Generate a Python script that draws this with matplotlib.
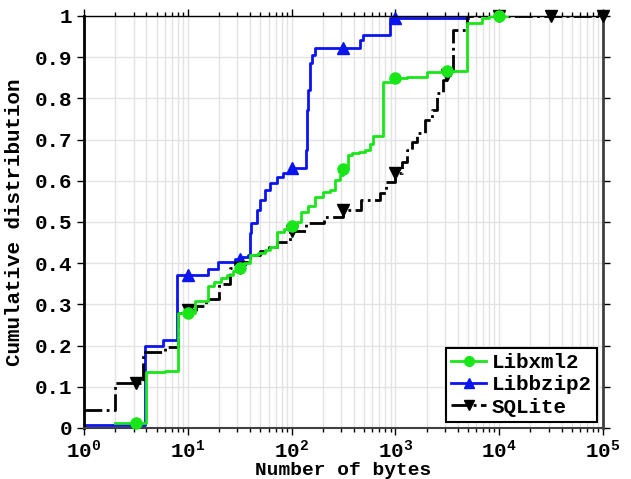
import numpy as np
import matplotlib
matplotlib.use("Agg")
import matplotlib.pyplot as plt

plt.rcParams['font.family'] = ['Liberation Mono', 'DejaVu Sans']
plt.rcParams['font.weight'] = 'bold'
plt.rcParams['mathtext.default'] = 'regular'
plt.rcParams['mathtext.fontset'] = 'custom'
plt.rcParams['mathtext.rm'] = 'Liberation Mono:bold'

# step curves (steps-post): cumulative fraction from each x until the next
xml_x = [2, 4, 6, 8, 11.8, 15.5, 18, 21, 24, 27, 31, 35, 40, 48, 55, 62, 72, 85, 100,
         112, 124, 145, 168, 200, 234, 260, 290, 316, 350, 380, 450, 510, 570, 610,
         760, 1000, 1300, 1600, 2000, 3100, 4900, 6800, 8000, 12000]
xml_y = [0.013, 0.136, 0.138, 0.279, 0.308, 0.345, 0.355, 0.365, 0.372, 0.380, 0.388,
         0.40, 0.42, 0.425, 0.432, 0.44, 0.475, 0.482, 0.49, 0.50, 0.525, 0.54, 0.561,
         0.572, 0.578, 0.602, 0.615, 0.628, 0.663, 0.667, 0.67, 0.675, 0.69, 0.708,
         0.84, 0.849, 0.851, 0.853, 0.865, 0.866, 0.982, 0.994, 1.0, 1.0]

bz_x = [1, 3.9, 5.8, 7.8, 15.8, 19.6, 28.5, 33, 38, 40, 41, 46, 49.6, 55, 61.7, 71.8,
        83, 100, 137, 140, 144, 150, 156, 168, 455, 490, 890, 5000]
bz_y = [0.008, 0.199, 0.213, 0.371, 0.385, 0.404, 0.41, 0.415, 0.42, 0.473, 0.497,
        0.529, 0.553, 0.578, 0.594, 0.61, 0.618, 0.63, 0.675, 0.772, 0.82, 0.885,
        0.905, 0.922, 0.942, 0.954, 0.995, 0.995]

sql_x = [1, 2, 3.7, 6, 8, 10, 12, 15, 20, 25.5, 31.8, 40, 50, 60, 72, 96, 139, 203,
         316, 470, 708, 820, 1000, 1150, 1290, 1450, 1600, 1930, 2240, 2500, 2900,
         3100, 3600, 4900, 100000]
sql_y = [0.044, 0.11, 0.185, 0.197, 0.28, 0.287, 0.295, 0.312, 0.35, 0.388, 0.404,
         0.42, 0.43, 0.44, 0.452, 0.477, 0.497, 0.513, 0.529, 0.553, 0.57, 0.598,
         0.62, 0.645, 0.675, 0.695, 0.715, 0.748, 0.772, 0.812, 0.845, 0.857, 0.966,
         1.0, 1.0]

# marker positions (half decades)
xml_mk = [10**0.5, 10, 10**1.5, 100, 10**2.5, 1000, 10**3.5, 10000]
bz_mk = [10, 10**1.5, 100, 10**2.5, 1000]
sql_mk = [10**0.5, 10, 10**1.5, 100, 10**2.5, 1000, 10**3.5, 10000, 10**4.5, 100000]

ytick_labels = ['0', '0.1', '0.2', '0.3', '0.4', '0.5', '0.6', '0.7', '0.8', '0.9', '1']


def step_at(xs, ys, pts):
    xs = np.asarray(xs)
    idx = np.searchsorted(xs, pts, side='right') - 1
    idx = np.clip(idx, 0, len(ys) - 1)
    return np.asarray(ys)[idx]


fig = plt.figure(figsize=(6.31, 4.79), dpi=100)
ax = fig.add_axes([0.1331, 0.1065, 0.8225, 0.8601])

series = [
    ('Libbzip2', bz_x, bz_y, bz_mk, '#0a14f0', '-', '^', 2),
    ('SQLite', sql_x, sql_y, sql_mk, 'black', '-.', 'v', 3),
    ('Libxml2', xml_x, xml_y, xml_mk, '#19e619', '-', 'o', 4),
]
handles = {}
for name, xs, ys, mk, col, ls, m, z in series:
    ax.plot(xs, ys, drawstyle='steps-post', color=col, ls=ls, lw=2, zorder=z)
    ax.plot(mk, step_at(xs, ys, mk), ls='none', marker=m, color=col, ms=8,
            zorder=z, clip_on=False)
    handles[name], = ax.plot([], [], color=col, ls=ls, lw=2, marker=m, ms=7)

ax.set_xscale('log')
ax.set_xlim(1, 1e5)
ax.set_ylim(0, 1)
ax.set_yticks(np.arange(0, 1.01, 0.1))
ax.set_yticklabels(ytick_labels)
ax.grid(True, which='major', color='#e3e3e3', lw=1)
ax.grid(True, which='minor', axis='x', color='#e3e3e3', lw=1)
ax.set_axisbelow(True)

ax.tick_params(which='both', direction='out', top=True, right=True, labelsize=15)
ax.tick_params(which='major', length=5, width=1)
ax.tick_params(which='minor', length=3, width=1)
ax.spines['left'].set_linewidth(2)
ax.spines['right'].set_linewidth(2)
ax.spines['right'].set_color('#404040')
ax.spines['bottom'].set_color('#404040')
ax.spines['bottom'].set_linewidth(1.5)
ax.spines['top'].set_linewidth(1)

ax.set_xlabel('Number of bytes', fontsize=14, fontweight='bold', labelpad=-0.5)
ax.set_ylabel('Cumulative distribution', fontsize=15, fontweight='bold', labelpad=8)

leg = ax.legend([handles['Libxml2'], handles['Libbzip2'], handles['SQLite']],
                ['Libxml2', 'Libbzip2', 'SQLite'], loc='lower right',
                fontsize=15, fancybox=False, framealpha=1, edgecolor='black',
                handlelength=1.7, handletextpad=0.25, labelspacing=0.15,
                borderpad=0.25, borderaxespad=0.3)
leg.get_frame().set_linewidth(1.5)
leg.set_zorder(10)

fig.savefig('out.png', dpi=100)
